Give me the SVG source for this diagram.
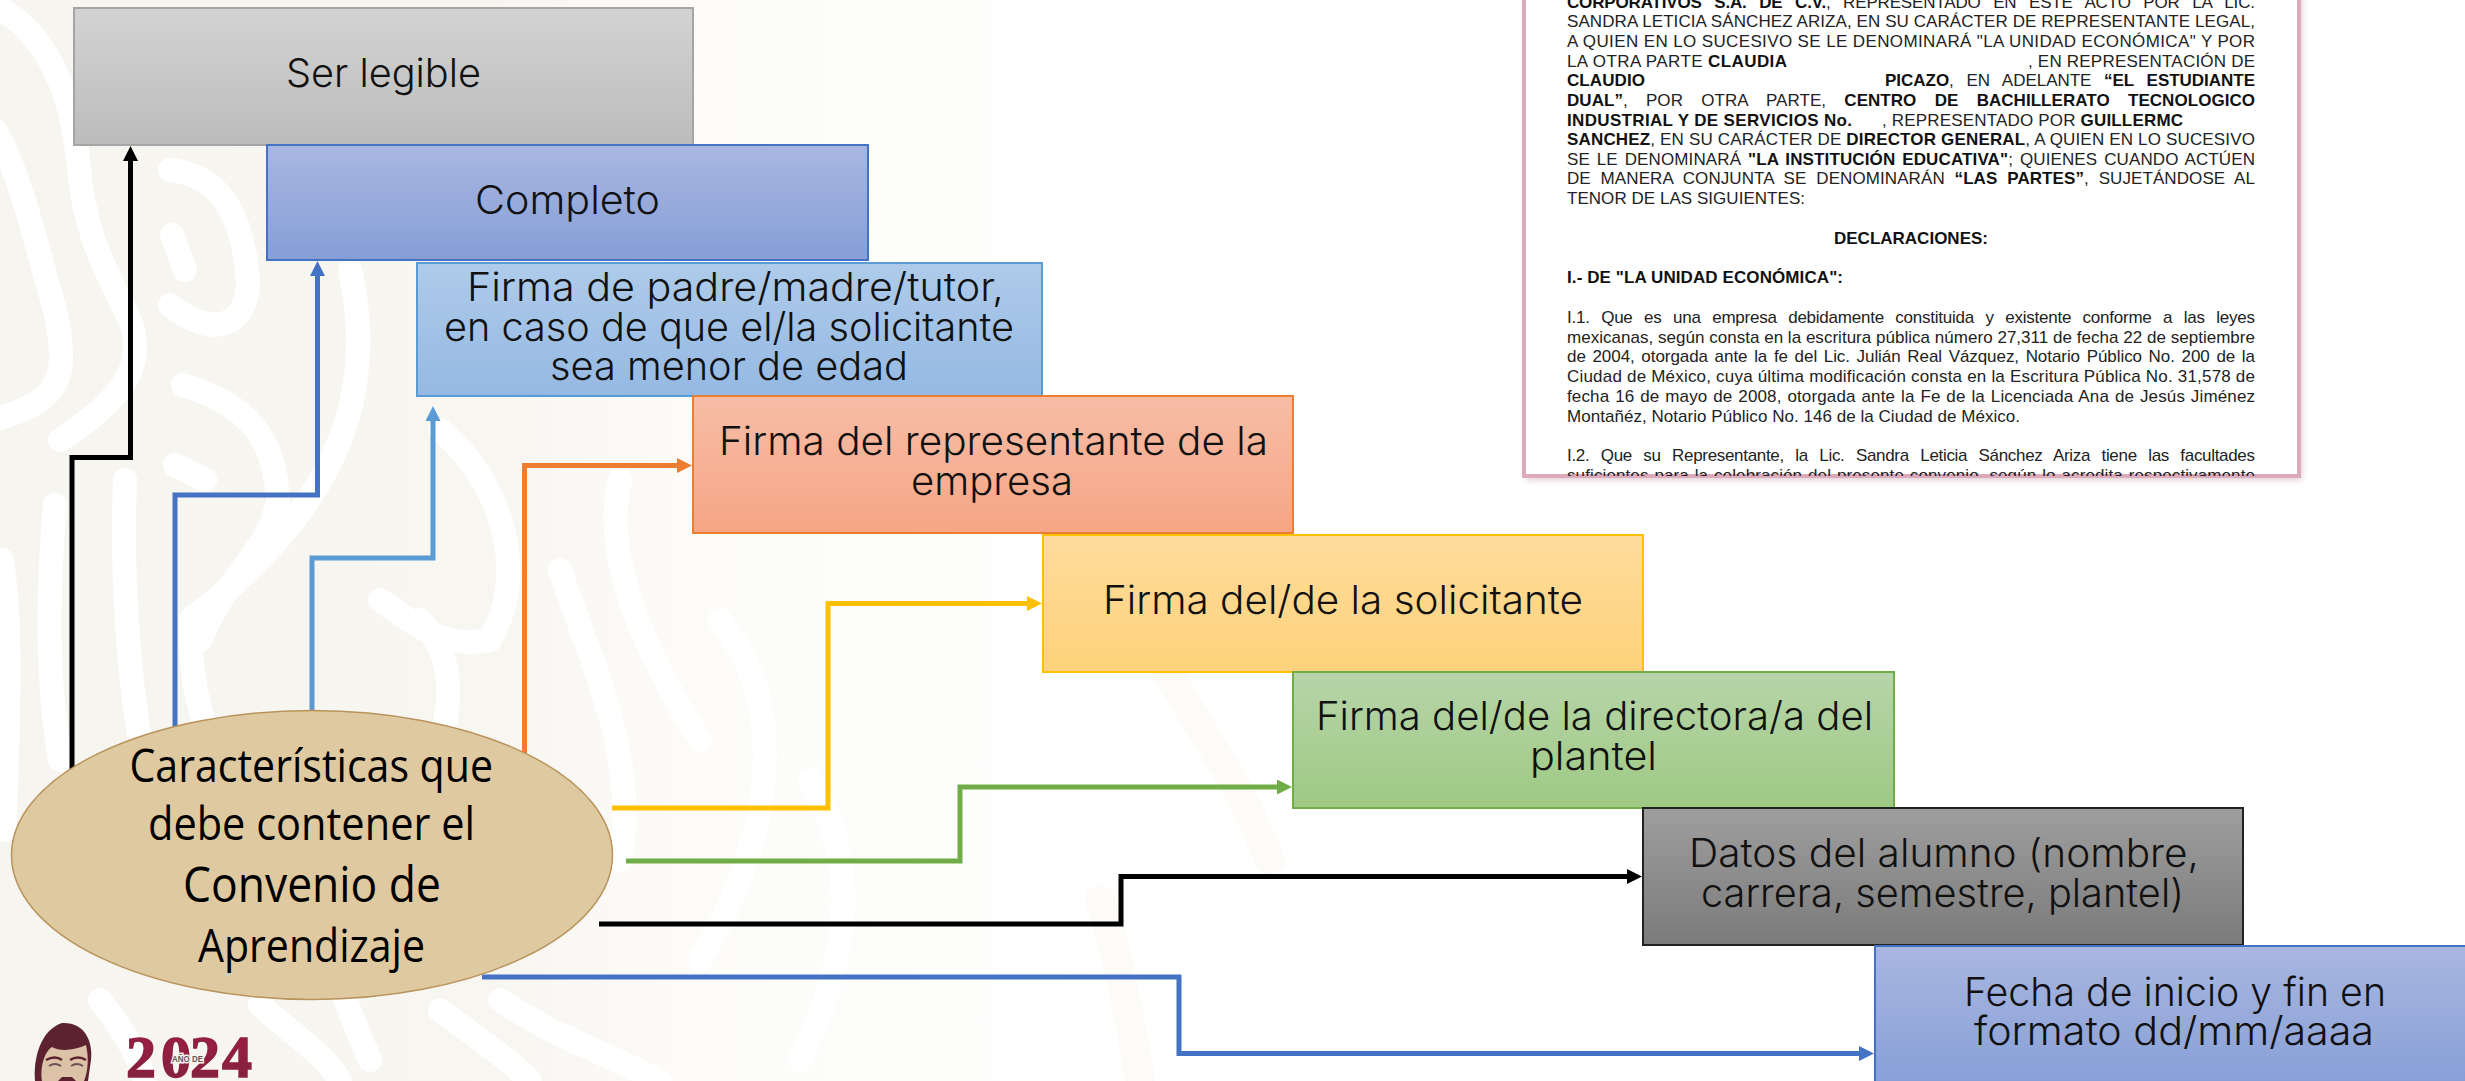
<svg xmlns="http://www.w3.org/2000/svg" width="2465" height="1081" viewBox="0 0 2465 1081">
<style>
.l{font-family:"Inter","Liberation Sans",sans-serif;font-size:39px;font-weight:300;fill:#111}
.e{font-family:"Open Sans","Liberation Sans",sans-serif;font-size:46px;fill:#000}
.d{font-family:"Liberation Sans",Arial,sans-serif;font-size:17px;fill:#222}
.d .b,.b{font-weight:700;fill:#111}
.box{stroke-width:2}
.c{fill:none;stroke-width:5;stroke-linejoin:miter}
.w{fill:none;stroke:#fff;stroke-linecap:round;stroke-linejoin:round}
.f{fill:none;stroke:#fcfbf8;stroke-linecap:round;stroke-linejoin:round}
</style>
<defs>
<linearGradient id="bg" gradientUnits="userSpaceOnUse" x1="0" x2="1100" y1="0" y2="0"><stop offset="0" stop-color="#f7f5ef"/><stop offset=".45" stop-color="#f8f6f1"/><stop offset=".62" stop-color="#fcfbf8"/><stop offset="1" stop-color="#fff"/></linearGradient>
<linearGradient id="gGray" x1="0" x2="0" y1="0" y2="1"><stop offset="0" stop-color="#d3d3d3"/><stop offset="1" stop-color="#bcbcbc"/></linearGradient>
<linearGradient id="gBlue" x1="0" x2="0" y1="0" y2="1"><stop offset="0" stop-color="#a9b7e1"/><stop offset="1" stop-color="#869ed6"/></linearGradient>
<linearGradient id="gSky" x1="0" x2="0" y1="0" y2="1"><stop offset="0" stop-color="#aecbea"/><stop offset="1" stop-color="#95b9e3"/></linearGradient>
<linearGradient id="gOrange" x1="0" x2="0" y1="0" y2="1"><stop offset="0" stop-color="#f7bda6"/><stop offset="1" stop-color="#f6a585"/></linearGradient>
<linearGradient id="gYellow" x1="0" x2="0" y1="0" y2="1"><stop offset="0" stop-color="#ffdc9c"/><stop offset="1" stop-color="#fed27b"/></linearGradient>
<linearGradient id="gGreen" x1="0" x2="0" y1="0" y2="1"><stop offset="0" stop-color="#b7d5a9"/><stop offset="1" stop-color="#9ec983"/></linearGradient>
<linearGradient id="gDark" x1="0" x2="0" y1="0" y2="1"><stop offset="0" stop-color="#9e9e9e"/><stop offset="1" stop-color="#7b7b7b"/></linearGradient>
<linearGradient id="g24" x1="0" x2="0" y1="0" y2="1"><stop offset="0" stop-color="#a31c45"/><stop offset="1" stop-color="#7a2440"/></linearGradient>
<filter id="sh" x="-3%" y="-3%" width="106%" height="106%"><feGaussianBlur stdDeviation="3"/></filter>
<clipPath id="docClip"><rect x="1526" y="0" width="773" height="476"/></clipPath>
<marker id="aK" markerUnits="userSpaceOnUse" markerWidth="15" markerHeight="15" refX="7" refY="7.5" orient="auto"><path d="M0 0L15 7.5L0 15z" fill="#000"/></marker>
<marker id="aB" markerUnits="userSpaceOnUse" markerWidth="15" markerHeight="15" refX="7" refY="7.5" orient="auto"><path d="M0 0L15 7.5L0 15z" fill="#4472c4"/></marker>
<marker id="aS" markerUnits="userSpaceOnUse" markerWidth="15" markerHeight="15" refX="7" refY="7.5" orient="auto"><path d="M0 0L15 7.5L0 15z" fill="#5b9bd5"/></marker>
<marker id="aO" markerUnits="userSpaceOnUse" markerWidth="15" markerHeight="15" refX="7" refY="7.5" orient="auto"><path d="M0 0L15 7.5L0 15z" fill="#ed7d31"/></marker>
<marker id="aY" markerUnits="userSpaceOnUse" markerWidth="15" markerHeight="15" refX="7" refY="7.5" orient="auto"><path d="M0 0L15 7.5L0 15z" fill="#ffc000"/></marker>
<marker id="aG" markerUnits="userSpaceOnUse" markerWidth="15" markerHeight="15" refX="7" refY="7.5" orient="auto"><path d="M0 0L15 7.5L0 15z" fill="#70ad47"/></marker>
</defs>

<g id="background">
<rect width="2465" height="1081" fill="#fff"/>
<rect width="1100" height="1081" fill="url(#bg)"/>
<g class="w" stroke-width="24">
<path d="M-5 5C40 30 70 80 78 160C84 230 100 260 130 320C145 360 130 395 60 440"/>
<path d="M-5 130C20 170 40 260 55 310C70 380 60 400 -5 420"/>
<path d="M170 170C225 175 245 225 248 285C245 325 215 340 170 305"/>
<path d="M172 235L185 270"/>
<path d="M183 385C250 405 275 440 278 500C270 550 230 570 200 640"/>
<path d="M175 465L205 480"/>
<path d="M350 270C375 380 350 500 190 620C190 680 200 760 260 800"/>
<path d="M125 480C120 620 135 720 150 800"/>
<path d="M55 505C45 620 50 700 60 760"/>
<path d="M2 560C15 650 5 760 5 830"/>
<path d="M440 430C500 480 530 570 490 640C440 650 410 620 380 600"/>
<path d="M420 620C480 680 430 780 400 830"/>
<path d="M320 760C300 850 320 950 370 1060"/>
<path d="M100 1000C130 1040 140 1060 145 1081"/>
<path d="M440 1010C480 1040 510 1060 530 1081"/>
<path d="M260 1005C300 1040 330 1060 340 1081"/>
<path d="M620 480C600 560 650 660 700 740"/>
<path d="M560 570C590 660 640 760 620 860"/>
<path d="M720 620C800 720 760 860 700 960"/>
<path d="M810 780C860 860 850 960 800 1060"/>
<path d="M500 1000C560 1040 600 1050 660 1081"/>
</g>
<g class="f" stroke-width="30">
<path d="M1150 640C1190 720 1230 760 1270 860"/>
<path d="M1100 900C1120 960 1130 1020 1140 1081"/>
</g>
</g>

<g id="document">
<rect x="1526" y="-10" width="776" height="490" fill="#c9a3ae" opacity=".55" filter="url(#sh)"/>
<rect x="1524" y="-10" width="775" height="486" fill="#fff" stroke="#dcaabb" stroke-width="4"/>
<g clip-path="url(#docClip)" class="d">
<text x="1567" y="8" word-spacing="8" textLength="688"><tspan class="b">CORPORATIVOS S.A. DE C.V.</tspan>, REPRESENTADO EN ESTE ACTO POR LA LIC.</text>
<text x="1567" y="27" textLength="688">SANDRA LETICIA SÁNCHEZ ARIZA, EN SU CARÁCTER DE REPRESENTANTE LEGAL,</text>
<text x="1567" y="47" textLength="688">A QUIEN EN LO SUCESIVO SE LE DENOMINARÁ "LA UNIDAD ECONÓMICA" Y POR</text>
<text x="1567" y="67" textLength="220">LA OTRA PARTE <tspan class="b">CLAUDIA</tspan></text>
<text x="2028" y="67" textLength="227">, EN REPRESENTACIÓN DE</text>
<text x="1567" y="86" class="b" textLength="78">CLAUDIO</text>
<text x="1885" y="86" word-spacing="8" textLength="370"><tspan class="b">PICAZO</tspan>, EN ADELANTE <tspan class="b">“EL ESTUDIANTE</tspan></text>
<text x="1567" y="106" word-spacing="13.5" textLength="688"><tspan class="b">DUAL”</tspan>, POR OTRA PARTE, <tspan class="b">CENTRO DE BACHILLERATO TECNOLOGICO</tspan></text>
<text x="1567" y="126" class="b" textLength="285">INDUSTRIAL Y DE SERVICIOS No.</text>
<text x="1882" y="126" textLength="301">, REPRESENTADO POR <tspan class="b">GUILLERMC</tspan></text>
<text x="1567" y="145" textLength="688"><tspan class="b">SANCHEZ</tspan>, EN SU CARÁCTER DE <tspan class="b">DIRECTOR GENERAL</tspan>, A QUIEN EN LO SUCESIVO</text>
<text x="1567" y="165" word-spacing="2" textLength="688">SE LE DENOMINARÁ <tspan class="b">"LA INSTITUCIÓN EDUCATIVA"</tspan>; QUIENES CUANDO ACTÚEN</text>
<text x="1567" y="184" word-spacing="5" textLength="688">DE MANERA CONJUNTA SE DENOMINARÁN <tspan class="b">“LAS PARTES”</tspan>, SUJETÁNDOSE AL</text>
<text x="1567" y="204" textLength="238">TENOR DE LAS SIGUIENTES:</text>
<text x="1834" y="244" class="b" textLength="154">DECLARACIONES:</text>
<text x="1567" y="283" class="b" textLength="276">I.- DE "LA UNIDAD ECONÓMICA":</text>
<text x="1567" y="323" word-spacing="7" textLength="688">I.1. Que es una empresa debidamente constituida y existente conforme a las leyes</text>
<text x="1567" y="343" textLength="688">mexicanas, según consta en la escritura pública número 27,311 de fecha 22 de septiembre</text>
<text x="1567" y="362" word-spacing="2" textLength="688">de 2004, otorgada ante la fe del Lic. Julián Real Vázquez, Notario Público No. 200 de la</text>
<text x="1567" y="382" textLength="688">Ciudad de México, cuya última modificación consta en la Escritura Pública No. 31,578 de</text>
<text x="1567" y="402" word-spacing="1" textLength="688">fecha 16 de mayo de 2008, otorgada ante la Fe de la Licenciada Ana de Jesús Jiménez</text>
<text x="1567" y="422" textLength="453">Montañéz, Notario Público No. 146 de la Ciudad de México.</text>
<text x="1567" y="461" word-spacing="7" textLength="688">I.2. Que su Representante, la Lic. Sandra Leticia Sánchez Ariza tiene las facultades</text>
<text x="1567" y="481" word-spacing="1" textLength="688">suficientes para la celebración del presente convenio, según lo acredita respectivamente</text>
</g>
</g>

<g id="logo">
<path d="M35 1081C33 1060 40 1030 62 1023C84 1022 93 1040 91 1060L88 1081Z" fill="#5c2230"/>
<path d="M42 1081C40 1068 44 1052 52 1047C60 1052 76 1050 86 1045C89 1058 88 1072 84 1081Z" fill="#dcc3a8"/>
<path d="M46 1060Q55 1055 62 1060M70 1060Q78 1055 86 1060" fill="none" stroke="#5c2230" stroke-width="2.500"/>
<path d="M49 1066Q55 1062 61 1066M71 1066Q77 1062 83 1066" fill="none" stroke="#6b5257" stroke-width="2"/>
<path d="M58 1081L76 1081L72 1077L62 1077Z" fill="#5c2230"/>
<text x="126 161 190 222" y="1077" font-family="'Liberation Serif',serif" font-weight="700" font-size="60" fill="url(#g24)" stroke="#8f1f3f" stroke-width="1.500">2024</text>
<text x="172" y="1062" font-family="'Liberation Sans',sans-serif" font-weight="700" font-size="9.500" fill="#6b5257" stroke="#f8f6f1" stroke-width="3" paint-order="stroke" textLength="31" lengthAdjust="spacingAndGlyphs">AÑO DE</text>
</g>

<g id="connectors">
<path class="c" stroke="#000" marker-end="url(#aK)" d="M72 770V457.5H130.500V154"/>
<path class="c" stroke="#4472c4" marker-end="url(#aB)" d="M175 730V495H317.500V269"/>
<path class="c" stroke="#5b9bd5" marker-end="url(#aS)" d="M312 711V558H433V414"/>
<path class="c" stroke="#ed7d31" marker-end="url(#aO)" d="M524.500 753V465.500H684"/>
<path class="c" stroke="#ffc000" marker-end="url(#aY)" d="M612 808H828V603.500H1034"/>
<path class="c" stroke="#70ad47" marker-end="url(#aG)" d="M626 861H960V787H1284"/>
<path class="c" stroke="#000" marker-end="url(#aK)" d="M599 924H1121V876.500H1634"/>
<path class="c" stroke="#4472c4" marker-end="url(#aB)" d="M482 977H1179V1053.500H1866"/>
</g>

<g id="node-ser-legible">
<rect class="box" x="74" y="8" width="619" height="137" fill="url(#gGray)" stroke="#a5a5a5"/>
<text class="l" x="286" y="87" textLength="195" lengthAdjust="spacingAndGlyphs">Ser legible</text>
</g>
<g id="node-firma-padre">
<rect class="box" x="417" y="263" width="625" height="133" fill="url(#gSky)" stroke="#5b9bd5"/>
<text class="l" x="467" y="301" textLength="537" lengthAdjust="spacingAndGlyphs">Firma de padre/madre/tutor,</text>
<text class="l" x="444" y="341" textLength="570" lengthAdjust="spacingAndGlyphs">en caso de que el/la solicitante</text>
<text class="l" x="550" y="380" textLength="358" lengthAdjust="spacingAndGlyphs">sea menor de edad</text>
</g>
<g id="node-completo">
<rect class="box" x="267" y="145" width="601" height="115" fill="url(#gBlue)" stroke="#4472c4"/>
<text class="l" x="475" y="214" textLength="185" lengthAdjust="spacingAndGlyphs">Completo</text>
</g>
<g id="node-firma-representante">
<rect class="box" x="693" y="396" width="600" height="137" fill="url(#gOrange)" stroke="#ed7d31"/>
<text class="l" x="719" y="455" textLength="549" lengthAdjust="spacingAndGlyphs">Firma del representante de la</text>
<text class="l" x="911" y="495" textLength="162" lengthAdjust="spacingAndGlyphs">empresa</text>
</g>
<g id="node-firma-solicitante">
<rect class="box" x="1043" y="535" width="600" height="137" fill="url(#gYellow)" stroke="#ffc000"/>
<text class="l" x="1103" y="614" textLength="480" lengthAdjust="spacingAndGlyphs">Firma del/de la solicitante</text>
</g>
<g id="node-firma-directora">
<rect class="box" x="1293" y="672" width="601" height="136" fill="url(#gGreen)" stroke="#70ad47"/>
<text class="l" x="1316" y="730" textLength="557" lengthAdjust="spacingAndGlyphs">Firma del/de la directora/a del</text>
<text class="l" x="1530" y="770" textLength="127" lengthAdjust="spacingAndGlyphs">plantel</text>
</g>
<g id="node-datos">
<rect class="box" x="1643" y="808" width="600" height="137" fill="url(#gDark)" stroke="#222"/>
<text class="l" x="1689" y="867" textLength="510" lengthAdjust="spacingAndGlyphs">Datos del alumno (nombre,</text>
<text class="l" x="1701" y="907" textLength="483" lengthAdjust="spacingAndGlyphs">carrera, semestre, plantel)</text>
</g>
<g id="node-fecha">
<rect class="box" x="1875" y="946" width="610" height="145" fill="url(#gBlue)" stroke="#4472c4"/>
<text class="l" x="1964" y="1006" textLength="422" lengthAdjust="spacingAndGlyphs">Fecha de inicio y fin en</text>
<text class="l" x="1974" y="1045" textLength="400" lengthAdjust="spacingAndGlyphs">formato dd/mm/aaaa</text>
</g>
<g id="node-caracteristicas">
<ellipse cx="312" cy="855" rx="300.500" ry="144.500" fill="#dfc9a1" stroke="#b8935a" stroke-width="1.500"/>
<text class="e" x="129.500" y="782" textLength="363.500" lengthAdjust="spacingAndGlyphs">Características que</text>
<text class="e" x="148" y="840" textLength="327" lengthAdjust="spacingAndGlyphs">debe contener el</text>
<text class="e" x="183" y="902" style="font-size:50px" textLength="258" lengthAdjust="spacingAndGlyphs">Convenio de</text>
<text class="e" x="198" y="962" textLength="227" lengthAdjust="spacingAndGlyphs">Aprendizaje</text>
</g>
</svg>
